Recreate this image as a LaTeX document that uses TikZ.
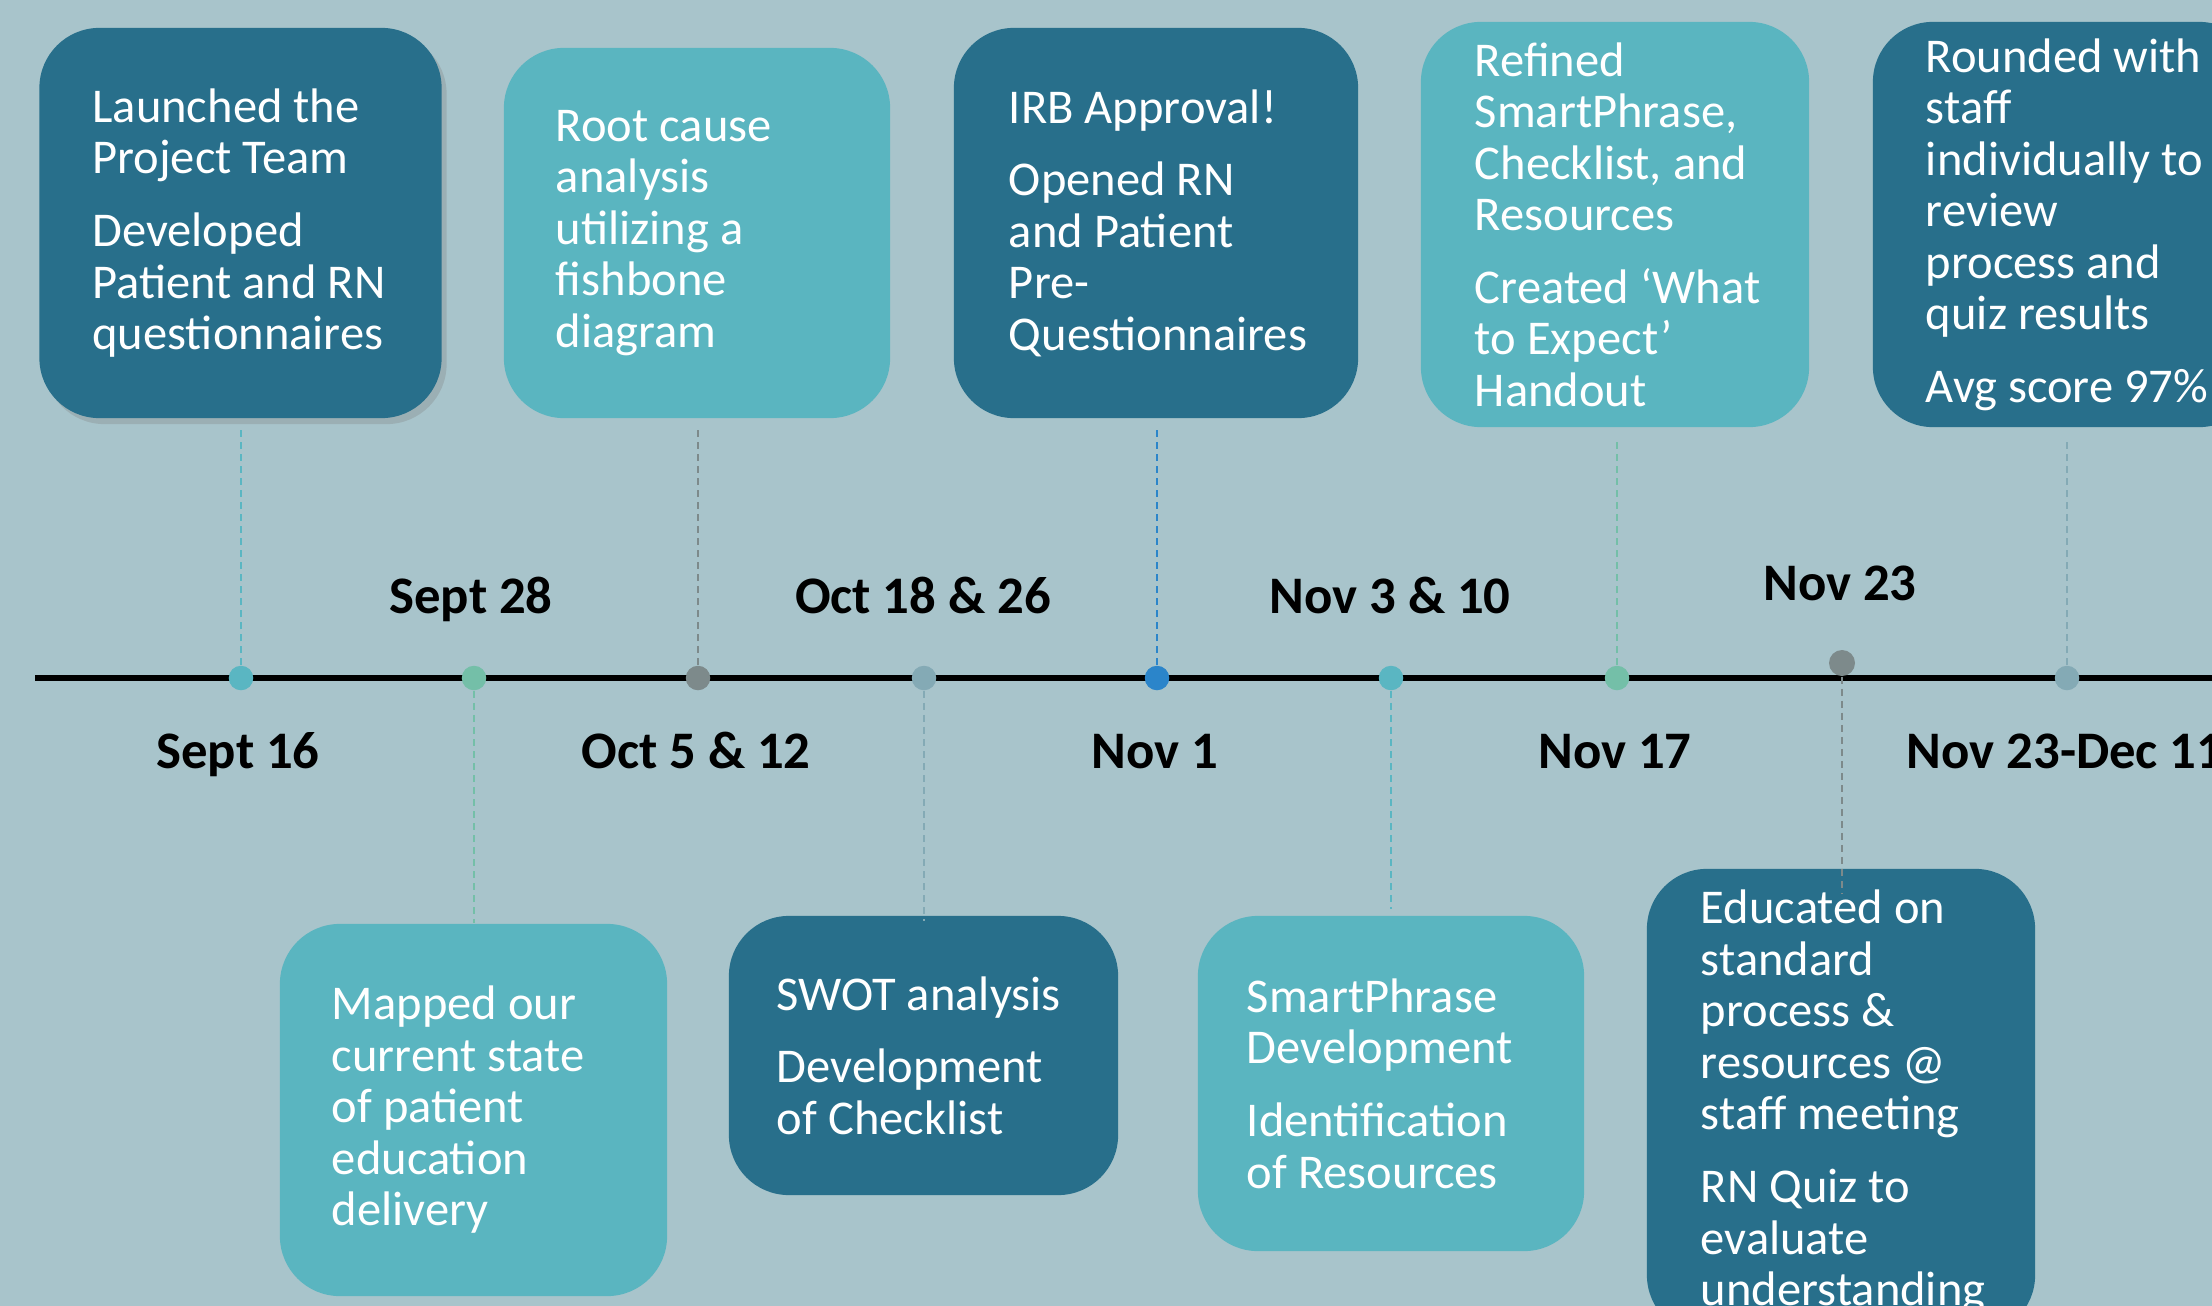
\documentclass[tikz,border=0pt]{standalone}
\usepackage{fontspec}
\setmainfont{Carlito}
\usetikzlibrary{positioning,shadows}

\definecolor{bgblue}{RGB}{168,196,203}
\definecolor{boxdark}{RGB}{40,111,139}
\definecolor{boxlight}{RGB}{90,181,192}
\definecolor{dotteal}{RGB}{90,182,194}
\definecolor{dotgreen}{RGB}{116,191,168}
\definecolor{dotgray}{RGB}{125,138,139}
\definecolor{dotslate}{RGB}{132,170,181}
\definecolor{dotblue}{RGB}{43,133,202}

\tikzset{
  event/.style={rounded corners=0.6cm, inner sep=0pt},
  darkbox/.style={event, fill=boxdark},
  lightbox/.style={event, fill=boxlight},
  boxtext/.style={text=white, align=left, inner sep=0pt,
    font=\fontsize{13.8}{14.65}\selectfont},
  datelabel/.style={font=\fontsize{15}{17}\selectfont\bfseries, inner sep=0pt, anchor=base},
  dot/.style={circle, inner sep=0pt, minimum size=0.245cm},
  link/.style={line width=0.024cm, dash pattern=on 0.07cm off 0.05cm},
  timeline/.style={line width=0.055cm, black}
}

\begin{document}
\begin{tikzpicture}[x=0.01cm, y=-0.01cm]
\useasboundingbox (0,0) rectangle (2212,1306);
\clip (0,0) rectangle (2212,1306);
\fill [bgblue] (0,0) rectangle (2212,1306);

% boxes above the line
\node [darkbox, minimum width=4.02cm, minimum height=3.9cm,
  drop shadow={shadow xshift=0.05cm, shadow yshift=-0.06cm, opacity=0.3}] (b1) at (240.5,223) {};
\node [lightbox, minimum width=3.86cm, minimum height=3.7cm] (b2) at (697,233) {};
\node [darkbox, minimum width=4.04cm, minimum height=3.9cm] (b3) at (1156,223) {};
\node [lightbox, minimum width=3.88cm, minimum height=4.05cm] (b4) at (1615,224.5) {};
\node [darkbox, minimum width=3.86cm, minimum height=4.05cm] (b5) at (2066,224.5) {};

% boxes below the line
\node [lightbox, minimum width=3.87cm, minimum height=3.72cm] (b6) at (473.5,1110) {};
\node [darkbox, minimum width=3.89cm, minimum height=2.79cm] (b7) at (923.5,1055.5) {};
\node [lightbox, minimum width=3.86cm, minimum height=3.35cm] (b8) at (1391,1083.5) {};
\node [darkbox, minimum width=3.88cm, minimum height=4.66cm] (b9) at (1841,1102) {};

\node [boxtext, right=0.53cm of b1.west] (t1) {Launched the\\Project Team\\[6pt]Developed\\Patient and RN\\questionnaires};
\node [boxtext, right=0.52cm of b2.west] (t2) {Root cause\\analysis\\utilizing a\\fishbone\\diagram};
\node [boxtext, right=0.55cm of b3.west] (t3) {IRB Approval!\\[6pt]Opened RN\\and Patient\\Pre-\\Questionnaires};
\node [boxtext, right=0.54cm of b4.west] (t4) {Refined\\SmartPhrase,\\Checklist, and\\Resources\\[6pt]Created ‘What\\to Expect’\\Handout};
\node [boxtext, right=0.53cm of b5.west] (t5) {Rounded with\\staff\\individually to\\review\\process and\\quiz results\\[6pt]Avg score 97\%};
\node [boxtext, right=0.52cm of b6.west] (t6) {Mapped our\\current state\\of patient\\education\\delivery};
\node [boxtext, right=0.48cm of b7.west] (t7) {SWOT analysis\\[6pt]Development\\of Checklist};
\node [boxtext, right=0.49cm of b8.west] (t8) {SmartPhrase\\Development\\[6pt]Identification\\of Resources};
\node [boxtext, right=0.54cm of b9.west] (t9) {Educated on\\standard\\process \&\\resources @\\staff meeting\\[6pt]RN Quiz to\\evaluate\\understanding};

\draw [timeline] (35,678) -- (2230,678);

\node [dot, fill=dotteal] (d1) at (241,678) {};
\node [dot, fill=dotgreen] (d2) at (474,678) {};
\node [dot, fill=dotgray] (d3) at (698,678) {};
\node [dot, fill=dotslate] (d4) at (924,678) {};
\node [dot, fill=dotblue] (d5) at (1157,678) {};
\node [dot, fill=dotteal] (d6) at (1391,678) {};
\node [dot, fill=dotgreen] (d7) at (1617,678) {};
\node [dot, fill=dotgray, minimum size=0.26cm] (d8) at (1842,663) {};
\node [dot, fill=dotslate] (d9) at (2067,678) {};

% dashed drop lines
\draw [link, dotteal, shorten >=0.1cm] (d1) -- (d1 |- b1.south);
\draw [link, dotgreen] (d2) -- (d2 |- b6.north);
\draw [link, dotgray, shorten >=0.1cm] (d3) -- (d3 |- b2.south);
\draw [link, dotslate, shorten >=-0.06cm] (d4) -- (d4 |- b7.north);
\draw [link, dotblue, shorten >=0.1cm] (d5) -- (d5 |- b3.south);
\draw [link, dotteal, shorten >=0.06cm] (d6) -- (d6 |- b8.north);
\draw [link, dotgreen, shorten >=0.1cm] (d7) -- (d7 |- b4.south);
\draw [link, dotgray, shorten >=-0.26cm] (d8) -- (d8 |- b9.north);
\draw [link, dotslate, shorten >=0.1cm] (d9) -- (d9 |- b5.south);

\node [datelabel] (l1) at (238,768) {Sept 16};
\node [datelabel] (l2) at (471,613) {Sept 28};
\node [datelabel] (l3) at (696,768) {Oct 5 \& 12};
\node [datelabel] (l4) at (923,613) {Oct 18 \& 26};
\node [datelabel] (l5) at (1155,768) {Nov 1};
\node [datelabel] (l6) at (1390,613) {Nov 3 \& 10};
\node [datelabel] (l7) at (1615,768) {Nov 17};
\node [datelabel] (l8) at (1840,600) {Nov 23};
\node [datelabel, anchor=base west] (l9) at (1906,768) {Nov 23-Dec 11};
\end{tikzpicture}
\end{document}
